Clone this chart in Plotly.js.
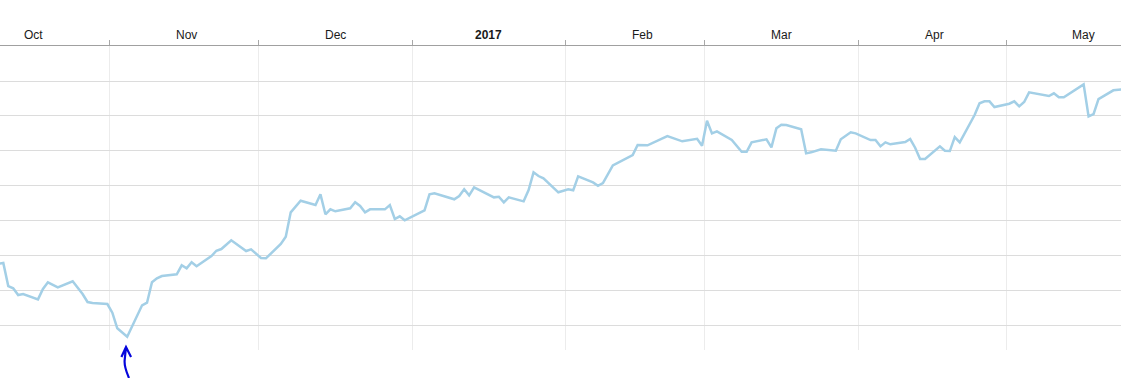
<!DOCTYPE html>
<html>
<head>
<meta charset="utf-8">
<script src="https://cdn.plot.ly/plotly-3.0.1.min.js"></script>
<style>
  html, body { margin: 0; padding: 0; background: #fff; }
  #chart { width: 1121px; height: 378px; }
</style>
</head>
<body>
<div id="chart"></div>
<script>
// ---- data ----
const dates = [
  '2016-10-07','2016-10-10','2016-10-11','2016-10-12','2016-10-13','2016-10-14',
  '2016-10-17','2016-10-18','2016-10-19','2016-10-21','2016-10-24','2016-10-26',
  '2016-10-27','2016-10-28','2016-10-31','2016-11-01','2016-11-02','2016-11-04',
  '2016-11-07','2016-11-08','2016-11-09','2016-11-10','2016-11-11','2016-11-14',
  '2016-11-15','2016-11-16','2016-11-17','2016-11-18','2016-11-21','2016-11-22',
  '2016-11-23','2016-11-25','2016-11-28','2016-11-29','2016-12-01','2016-12-02',
  '2016-12-05','2016-12-06','2016-12-07','2016-12-09','2016-12-12','2016-12-13',
  '2016-12-14','2016-12-15','2016-12-16','2016-12-19','2016-12-20','2016-12-21',
  '2016-12-22','2016-12-23','2016-12-26','2016-12-27','2016-12-28','2016-12-29',
  '2016-12-30','2017-01-03','2017-01-04','2017-01-05','2017-01-09','2017-01-10',
  '2017-01-11','2017-01-12','2017-01-13','2017-01-17','2017-01-18','2017-01-19',
  '2017-01-20','2017-01-23','2017-01-24','2017-01-25','2017-01-26','2017-01-27',
  '2017-01-30','2017-02-01','2017-02-02','2017-02-03','2017-02-06','2017-02-07',
  '2017-02-08','2017-02-10','2017-02-14','2017-02-15','2017-02-17','2017-02-21',
  '2017-02-24','2017-02-27','2017-02-28','2017-03-01','2017-03-02','2017-03-03',
  '2017-03-06','2017-03-08','2017-03-09','2017-03-10','2017-03-13','2017-03-14',
  '2017-03-15','2017-03-16','2017-03-17','2017-03-20','2017-03-21','2017-03-22',
  '2017-03-24','2017-03-27','2017-03-28','2017-03-30','2017-03-31','2017-04-03',
  '2017-04-04','2017-04-05','2017-04-06','2017-04-07','2017-04-10','2017-04-11',
  '2017-04-12','2017-04-13','2017-04-14','2017-04-17','2017-04-18','2017-04-19',
  '2017-04-20','2017-04-21','2017-04-24','2017-04-25','2017-04-26','2017-04-27',
  '2017-04-28','2017-05-01','2017-05-02','2017-05-03','2017-05-04','2017-05-05',
  '2017-05-09','2017-05-10','2017-05-11','2017-05-12','2017-05-16','2017-05-17',
  '2017-05-18','2017-05-19','2017-05-22','2017-05-23','2017-05-24'
];
const values = [
  27.27, 27.79, 21.19, 20.53, 18.61, 18.89,
  17.37, 20.33, 22.25, 20.81, 22.54, 18.89,
  16.60, 16.31, 16.02, 13.53, 9.05, 6.64,
  15.65, 16.40, 22.25, 23.40, 24.06, 24.54,
  27.13, 26.26, 27.99, 26.84, 29.79, 31.31,
  31.80, 34.30, 31.23, 31.72, 29.22, 29.13,
  33.24, 35.33, 42.33, 45.66, 44.42, 47.49,
  41.76, 43.19, 42.62, 43.48, 45.20, 44.14,
  42.33, 43.19, 43.19, 44.42, 40.41, 41.18,
  40.03, 42.90, 47.49, 47.78, 46.06, 47.00,
  48.93, 47.21, 49.50, 46.63, 46.80, 45.20,
  46.63, 45.48, 48.73, 53.80, 52.74, 52.08,
  48.07, 48.93, 48.64, 52.66, 50.93, 49.96,
  50.73, 55.81, 58.77, 61.64, 61.55, 64.22,
  62.70, 63.44, 61.43, 68.61, 64.99, 65.56,
  63.07, 59.71, 59.71, 62.41, 63.27, 60.98,
  66.43, 67.46, 67.37, 66.14, 59.25, 59.54,
  60.40, 60.00, 63.27, 65.28, 64.99, 63.07,
  63.07, 61.26, 62.41, 61.84, 62.50, 63.36,
  60.86, 57.62, 57.62, 61.26, 60.00, 59.91,
  63.93, 62.41, 70.24, 73.60, 74.17, 74.17,
  72.54, 73.48, 74.17, 72.74, 73.97, 76.75,
  75.69, 76.47, 75.32, 75.32, 79.05, 69.87,
  70.53, 74.83, 77.33, 77.50, 77.60
];
const monthStarts = ['2016-10','2016-11','2016-12','2017-01','2017-02','2017-03','2017-04','2017-05'];
const monthLabels = ['Oct','Nov','Dec','2017','Feb','Mar','Apr','May'];

// ---- chart ----
const trace = {
  type: 'scatter',
  mode: 'lines',
  x: dates.map(d => d + ' 12:00'),
  y: values,
  line: { color: '#a3cfe6', width: 2.5 },
  hoverinfo: 'x+y'
};

const labelAnnotations = monthStarts.map((m, i) => ({
  xref: 'x', yref: 'paper',
  x: m + '-16 12:00', y: 1.037,
  xanchor: 'center', yanchor: 'middle',
  text: /^\d{4}$/.test(monthLabels[i]) ? '<b>' + monthLabels[i] + '</b>' : monthLabels[i],
  showarrow: false,
  font: { family: 'Liberation Sans, Arial, sans-serif', size: 12, color: '#1a1a1a' }
}));

// hand-drawn blue arrow below the plot (paper coordinates)
const arrowShape = {
  type: 'path', xref: 'paper', yref: 'paper', layer: 'above',
  path: 'M 0.1151 -0.0921 C 0.1133 -0.0760, 0.1106 -0.0560, 0.1112 -0.0330 L 0.1124 0.0099 ' +
        'M 0.1083 -0.0230 L 0.1124 0.0099 L 0.1169 -0.0230',
  line: { color: '#0505dc', width: 2.2 }
};

const layout = {
  width: 1121, height: 378,
  margin: { l: 0, r: 0, t: 46, b: 28, pad: 0 },
  paper_bgcolor: '#ffffff',
  plot_bgcolor: '#ffffff',
  showlegend: false,
  xaxis: {
    type: 'date',
    side: 'top',
    range: ['2016-10-09 20:00', '2017-05-24 01:00'],
    tick0: '2016-10-01',
    dtick: 'M1',
    showticklabels: false,
    ticks: 'outside', ticklen: 5, tickwidth: 1, tickcolor: '#a8a8a8',
    showline: true, linecolor: '#a0a0a0', linewidth: 1,
    showgrid: true, gridcolor: '#ececec', gridwidth: 1,
    zeroline: false, automargin: false, fixedrange: true
  },
  yaxis: {
    range: [2.83, 90.05],
    tick0: 0, dtick: 10,
    showticklabels: false, ticks: '',
    showline: false, zeroline: false,
    showgrid: true, gridcolor: '#dcdcdc', gridwidth: 1,
    automargin: false, fixedrange: true
  },
  annotations: labelAnnotations,
  shapes: [arrowShape]
};

Plotly.newPlot('chart', [trace], layout, { displayModeBar: false, staticPlot: true });
</script>
</body>
</html>
